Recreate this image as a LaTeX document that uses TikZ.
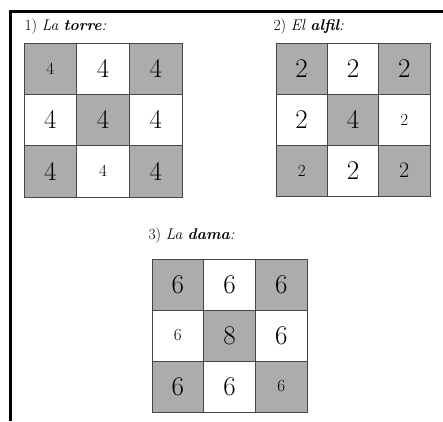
\documentclass[tikz,border=0pt]{standalone}
\usepackage{tikz}
\usetikzlibrary{positioning}
\definecolor{CellGray}{RGB}{172,172,172}
\definecolor{CellLine}{RGB}{70,70,70}
\tikzset{
  x=1pt, y=1pt,
  % Caselle della scacchiera
  cell/.style={draw=CellLine,line width=0.7pt,inner sep=0pt,minimum width=52.5pt,minimum height=51.3pt},
  dark/.style={cell,fill=CellGray},
  light/.style={cell,fill=white},
  % Cifre scritte a mano (grandi e piccole)
  big/.style={font=\fontsize{27}{27}\selectfont},
  mid/.style={font=\fontsize{22}{22}\selectfont},
  small/.style={font=\fontsize{17}{17}\selectfont},
  % Titoli
  title/.style={anchor=west,font=\fontsize{15.5}{15.5}\selectfont},
  frame/.style={line width=3pt,black}
}

\begin{document}
\begin{tikzpicture}
  \useasboundingbox (0,0) rectangle (443,-421);
  \draw[frame] (10,-421) |- (443,-11);
  % 1) torre
  \node[title] (t1) at (21,-27) {1) \textit{La \textbf{torre}:}};
  \foreach \r/\c/\k/\f/\n in {1/1/dark/small/4,1/2/light/big/4,1/3/dark/big/4,
                              2/1/light/big/4,2/2/dark/big/4,2/3/light/big/4,
                              3/1/dark/big/4,3/2/light/small/4,3/3/dark/big/4}
    \node[\k,\f] (T\r\c) at ({24+(\c-0.5)*52.7},{-43-(\r-0.5)*51.3}) {\n};
  % 2) alfil
  \node[title] (t2) at (270,-27) {2) \textit{El \textbf{alfil}:}};
  \foreach \r/\c/\k/\f/\n in {1/1/dark/big/2,1/2/light/big/2,1/3/dark/big/2,
                              2/1/light/big/2,2/2/dark/big/4,2/3/light/small/2,
                              3/1/dark/small/2,3/2/light/big/2,3/3/dark/mid/2}
    \node[\k,\f,minimum width=51.3pt,minimum height=51pt] (A\r\c) at ({276+(\c-0.5)*51.3},{-43-(\r-0.5)*51}) {\n};
  % 3) dama
  \node[title] (t3) at (145,-236) {3) \textit{La \textbf{dama}:}};
  \foreach \r/\c/\k/\f/\n in {1/1/dark/big/6,1/2/light/big/6,1/3/dark/big/6,
                              2/1/light/small/6,2/2/dark/big/8,2/3/light/big/6,
                              3/1/dark/big/6,3/2/light/big/6,3/3/dark/small/6}
    \node[\k,\f,minimum width=51.7pt,minimum height=51pt] (D\r\c) at ({152+(\c-0.5)*51.7},{-259-(\r-0.5)*51}) {\n};
\end{tikzpicture}
\end{document}
